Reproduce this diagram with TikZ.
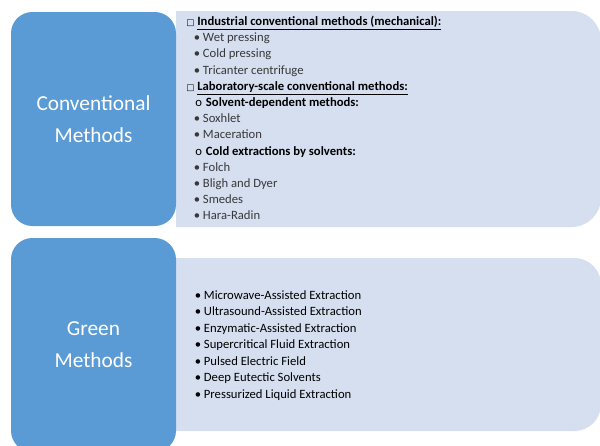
\documentclass[tikz,border=0pt]{standalone}
\usepackage{fontspec}
\setmainfont{Carlito}
\newfontfamily\symfont{DejaVu Sans}

\definecolor{boxblue}{HTML}{5B9BD5}
\definecolor{panelblue}{HTML}{D6DFF0}
\definecolor{itemgray}{HTML}{383838}

\tikzset{
  methodbox/.style={fill=boxblue, rounded corners=16pt, minimum width=123.75pt,
    minimum height=160.5pt, text=white, align=center,
    font=\fontsize{16}{24}\selectfont},
  panel/.style={fill=panelblue},
  item/.style={anchor=base west, inner sep=0pt, text=itemgray,
    font=\fontsize{9.5}{11}\selectfont},
  heading/.style={item, text=black, font=\fontsize{9.5}{11}\selectfont\bfseries},
  greenitem/.style={item, text=black},
}
\newcommand{\boxmark}{{\symfont\fontsize{6.5}{7}\selectfont\char"25A1}}

\begin{document}
\begin{tikzpicture}[x=0.75pt, y=-0.75pt]
  \useasboundingbox (0,0) rectangle (600,446);
  \clip (0,0) rectangle (600,446);

  % Draw the light panels (rounded on the right only)
  \path[panel] (176,11) [rounded corners=22pt] -- (601,11) -- (601,227)
    [sharp corners] -- (176,227) -- cycle;
  \path[panel] (176,258) [rounded corners=20pt] -- (601,258) -- (601,431)
    [sharp corners] -- (176,431) -- cycle;

  % Draw the blue method boxes
  \node[methodbox] (conv) at (93.5,119) {Conventional\\Methods};
  \node[methodbox] (green) at (93.5,345) {Green\\Methods};

  % Conventional methods list
  \node[heading] (ind) at (186,25.5) {\boxmark\ \underline{Industrial conventional methods (mechanical):}};
  \node[item] (wet) at (193.5,41.7) {• Wet pressing};
  \node[item] (cold) at (193.5,57.9) {• Cold pressing};
  \node[item] (tri) at (193.5,74.1) {• Tricanter centrifuge};
  \node[heading] (lab) at (186,90.3) {\boxmark\ \underline{Laboratory-scale conventional methods:}};
  \node[heading] (solv) at (195,106.5) {\mdseries o\hspace{3pt}\bfseries Solvent-dependent methods:};
  \node[item] (sox) at (193.5,122.7) {• Soxhlet};
  \node[item] (mac) at (193.5,138.9) {• Maceration};
  \node[heading] (coldx) at (195,155.1) {\mdseries o\hspace{3pt}\bfseries Cold extractions by solvents:};
  \node[item] (folch) at (193.5,171.3) {• Folch};
  \node[item] (bligh) at (193.5,187.5) {• Bligh and Dyer};
  \node[item] (smedes) at (193.5,203.7) {• Smedes};
  \node[item] (hara) at (193.5,219.9) {• Hara-Radin};

  % Green methods list
  \node[greenitem] (mae) at (194.5,299) {• Microwave-Assisted Extraction};
  \node[greenitem] (uae) at (194.5,315.5) {• Ultrasound-Assisted Extraction};
  \node[greenitem] (eae) at (194.5,332) {• Enzymatic-Assisted Extraction};
  \node[greenitem] (sfe) at (194.5,348.5) {• Supercritical Fluid Extraction};
  \node[greenitem] (pef) at (194.5,365) {• Pulsed Electric Field};
  \node[greenitem] (des) at (194.5,381.5) {• Deep Eutectic Solvents};
  \node[greenitem] (ple) at (194.5,398) {• Pressurized Liquid Extraction};
\end{tikzpicture}
\end{document}
